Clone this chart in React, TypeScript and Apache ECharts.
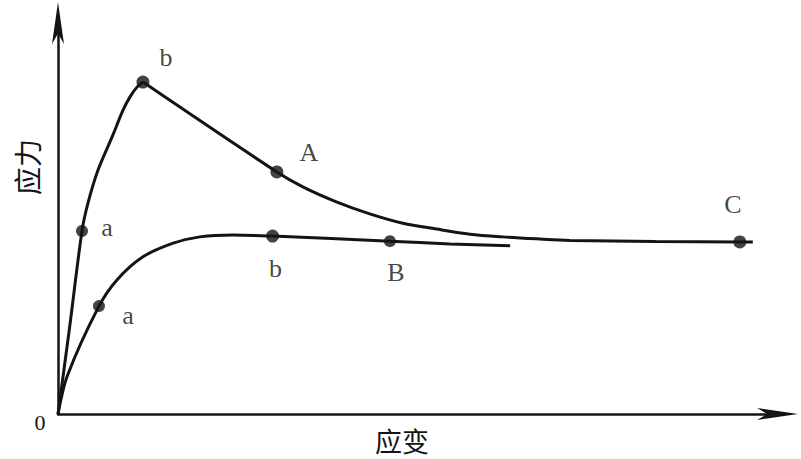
import React, { useEffect, useRef } from "react";
import * as echarts from "echarts";

// Upper curve (stress vs strain), in axis units: rising branch up to peak b
const upperRiseX = [0, 1.6, 3.33, 4.17, 5.56, 7.5, 9.03, 10, 10.97, 11.8];
const upperRiseY = [0, 22, 46.8, 54.0, 62.4, 70.8, 77.7, 81.1, 83.6, 84.9];
// Upper curve: falling branch from peak b to C
const upperFallX = [11.8, 30.4, 34.0, 38.75, 43.3, 47.9, 52.6, 57.2, 61.8, 66.5, 71.1, 83, 94.7, 96.5];
const upperFallY = [84.9, 61.9, 58.1, 54.2, 51.2, 48.8, 47.3, 46.0, 45.3, 44.8, 44.4, 44.1, 44.0, 44.0];

// Lower curve
const lowerX = [0, 1.3, 5.69, 8.19, 11.8, 16, 19.7, 24.3, 29.8, 46.1, 54.4, 62.8];
const lowerY = [0, 9.8, 27.6, 34.3, 40.2, 43.7, 45.3, 45.8, 45.5, 44.2, 43.5, 43.0];

// Marked points
const upperMarkNames = ["a", "b", "A", "C"];
const upperMarkX = [3.33, 11.8, 30.4, 94.7];
const upperMarkY = [46.8, 84.9, 61.9, 44.0];

const lowerMarkNames = ["a", "b", "B"];
const lowerMarkX = [5.69, 29.8, 46.1];
const lowerMarkY = [27.6, 45.5, 44.2];

const yAxisName = "应力";
const xAxisName = "应变";
const originLabel = "0";

const INK = "#141414";
const SERIF = "'Liberation Serif', 'DejaVu Serif', serif";
const CJK = "'Noto Sans CJK SC', sans-serif";

// label offsets (styling)
const upperOffsets: Record<string, [number, number]> = {
  a: [25, -4],
  b: [23, -25],
  A: [32, -19],
  C: [-7, -37],
};
const lowerOffsets: Record<string, [number, number]> = {
  a: [29, 9],
  b: [3, 32],
  B: [6, 31],
};
const markSizes: Record<string, number> = { a: 12, b: 13, A: 13, B: 12, C: 13 };

function zip(xs: number[], ys: number[]) {
  return xs.map((x, i) => [x, ys[i]]);
}

function marks(names: string[], xs: number[], ys: number[], offsets: Record<string, [number, number]>) {
  return names.map((n, i) => ({
    name: n,
    value: [xs[i], ys[i]],
    symbolSize: markSizes[n],
    label: {
      show: true,
      formatter: n,
      position: "inside",
      offset: offsets[n],
      color: INK,
      fontFamily: SERIF,
      fontSize: 26,
    },
  }));
}

export default function App() {
  const ref = useRef<HTMLDivElement>(null);
  useEffect(() => {
    if (!ref.current) return;
    const chart = echarts.init(ref.current, undefined, { renderer: "svg" });
    const axisLine = (size: [number, number], off: number) => ({
      show: true,
      symbol: ["none", "arrow"],
      symbolSize: size,
      symbolOffset: [0, off],
      lineStyle: { color: INK, width: 2.5 },
    });
    const curve = (data: number[][]) => ({
      type: "line",
      data,
      smooth: 0.3,
      showSymbol: false,
      lineStyle: { color: INK, width: 3 },
      z: 2,
    });
    chart.setOption({
      animation: false,
      backgroundColor: "#ffffff",
      grid: { left: 58, right: 23, top: 23, bottom: 45 },
      xAxis: {
        type: "value",
        min: 0,
        max: 100,
        axisLine: axisLine([9, 41], 20),
        axisTick: { show: false },
        axisLabel: { show: false },
        splitLine: { show: false },
      },
      yAxis: {
        type: "value",
        min: 0,
        max: 100,
        axisLine: axisLine([9, 42], 21),
        axisTick: { show: false },
        axisLabel: { show: false },
        splitLine: { show: false },
      },
      series: [
        curve(zip(upperRiseX, upperRiseY)),
        curve(zip(upperFallX, upperFallY)),
        curve(zip(lowerX, lowerY)),
        {
          type: "scatter",
          data: marks(upperMarkNames, upperMarkX, upperMarkY, upperOffsets),
          itemStyle: { color: INK },
          z: 3,
        },
        {
          type: "scatter",
          data: marks(lowerMarkNames, lowerMarkX, lowerMarkY, lowerOffsets),
          itemStyle: { color: INK },
          z: 3,
        },
      ],
      graphic: [
        {
          type: "text",
          x: 27,
          y: 167,
          rotation: Math.PI / 2,
          style: {
            text: yAxisName,
            align: "center",
            verticalAlign: "middle",
            fill: INK,
            font: `28px ${CJK}`,
          },
        },
        {
          type: "text",
          x: 402,
          y: 440,
          style: {
            text: xAxisName,
            align: "center",
            verticalAlign: "middle",
            fill: INK,
            font: `27px ${CJK}`,
          },
        },
        {
          type: "text",
          x: 40,
          y: 422,
          style: {
            text: originLabel,
            align: "center",
            verticalAlign: "middle",
            fill: INK,
            font: `22px ${SERIF}`,
          },
        },
      ],
    });
    return () => chart.dispose();
  }, []);
  return (
    <div
      ref={ref}
      style={{ position: "fixed", left: 0, top: 0, width: 801, height: 459, background: "#fff" }}
    />
  );
}
